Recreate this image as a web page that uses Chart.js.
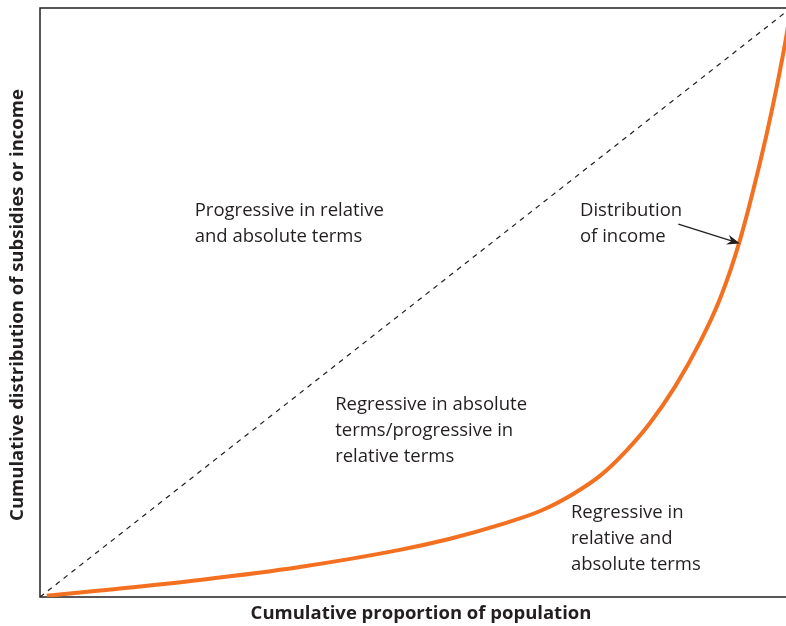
<!DOCTYPE html>
<html>
<head>
<meta charset="utf-8">
<script src="https://cdn.jsdelivr.net/npm/chart.js@4.4.0/dist/chart.umd.min.js"></script>
<style>
  html, body { margin: 0; padding: 0; background: #fff; overflow: hidden; }
  #wrap { position: relative; width: 796px; height: 626px; }
</style>
</head>
<body>
<div id="wrap"><canvas id="lorenz" width="796" height="626"></canvas></div>
<script>
// cumulative proportion of population (x) vs cumulative share of income (y)
const popShare = [0.009, 0.080, 0.213, 0.346, 0.479, 0.546, 0.613, 0.666, 0.710, 0.746, 0.779, 0.812, 0.846, 0.879, 0.906, 0.932, 0.959, 0.976, 0.992, 1.0];
const incomeShare = [0.002, 0.011, 0.029, 0.051, 0.080, 0.099, 0.123, 0.146, 0.175, 0.206, 0.246, 0.295, 0.358, 0.433, 0.508, 0.606, 0.739, 0.835, 0.939, 1.0];
const equalityX = [0, 1];
const equalityY = [0, 1];

const xTitle = 'Cumulative proportion of population';
const yTitle = 'Cumulative distribution of subsidies or income';

// text labels placed in data units (first baseline)
const notes = [
    { lines: ['Progressive in relative', 'and absolute terms'], x: 0.206, y: 0.647 },
    { lines: ['Distribution', 'of income'], x: 0.719, y: 0.647 },
    { lines: ['Regressive in absolute', 'terms/progressive in', 'relative terms'], x: 0.393, y: 0.317 },
    { lines: ['Regressive in', 'relative and', 'absolute terms'], x: 0.707, y: 0.134 }
];
const arrowFrom = [0.850, 0.633];
const arrowTo = [0.932, 0.600];

const FONT = '"Open Sans", "Noto Sans", sans-serif';

const decorPlugin = {
    id: 'decor',
    beforeDatasetsDraw(chart) {
        const { ctx, chartArea: a } = chart;
        ctx.save();
        ctx.strokeStyle = '#231f20';
        ctx.lineWidth = 1.5;
        ctx.beginPath();
        ctx.moveTo(a.right + 2, a.top);
        ctx.lineTo(a.left, a.top);
        ctx.lineTo(a.left, a.bottom);
        ctx.lineTo(a.right + 2, a.bottom);
        ctx.stroke();
        ctx.restore();
    },
    afterDatasetsDraw(chart) {
        const { ctx, scales } = chart;
        const sx = scales.x, sy = scales.y;
        ctx.save();
        ctx.fillStyle = '#231f20';
        ctx.font = '18.5px ' + FONT;
        ctx.textBaseline = 'alphabetic';
        ctx.textAlign = 'left';
        notes.forEach(n => {
            const px = sx.getPixelForValue(n.x);
            const py = sy.getPixelForValue(n.y);
            n.lines.forEach((t, i) => ctx.fillText(t, px, py + i * 25.8));
        });

        // arrow
        const x1 = sx.getPixelForValue(arrowFrom[0]), y1 = sy.getPixelForValue(arrowFrom[1]);
        const x2 = sx.getPixelForValue(arrowTo[0]), y2 = sy.getPixelForValue(arrowTo[1]);
        const ang = Math.atan2(y2 - y1, x2 - x1);
        const c = Math.cos(ang), s = Math.sin(ang);
        ctx.strokeStyle = '#231f20';
        ctx.lineWidth = 1.3;
        ctx.beginPath();
        ctx.moveTo(x1, y1);
        ctx.lineTo(x2 - 8 * c, y2 - 8 * s);
        ctx.stroke();
        ctx.beginPath();
        ctx.moveTo(x2, y2);
        ctx.lineTo(x2 - 13 * c + 5 * s, y2 - 13 * s - 5 * c);
        ctx.lineTo(x2 - 9 * c, y2 - 9 * s);
        ctx.lineTo(x2 - 13 * c - 5 * s, y2 - 13 * s + 5 * c);
        ctx.closePath();
        ctx.fill();

        // axis titles
        ctx.font = 'bold 18.5px ' + FONT;
        ctx.textAlign = 'center';
        ctx.textBaseline = 'middle';
        ctx.fillText(xTitle, 421, 614);
        ctx.translate(18, 305);
        ctx.rotate(-Math.PI / 2);
        ctx.fillText(yTitle, 0, 0);
        ctx.restore();
    }
};

new Chart(document.getElementById('lorenz'), {
    type: 'scatter',
    data: {
        datasets: [
            {
                data: equalityX.map((x, i) => ({ x, y: equalityY[i] })),
                showLine: true,
                borderColor: '#231f20',
                borderWidth: 1.2,
                borderDash: [5, 5],
                pointRadius: 0
            },
            {
                data: popShare.map((x, i) => ({ x, y: incomeShare[i] })),
                showLine: true,
                borderColor: '#f37021',
                borderWidth: 4,
                cubicInterpolationMode: 'monotone',
                pointRadius: 0
            }
        ]
    },
    options: {
        responsive: false,
        animation: false,
        devicePixelRatio: 1,
        layout: { padding: { left: 40, top: 8, right: 5, bottom: 29 } },
        plugins: { legend: { display: false }, tooltip: { enabled: false } },
        scales: {
            x: { type: 'linear', min: 0, max: 1, display: false },
            y: { type: 'linear', min: 0, max: 1, display: false }
        }
    },
    plugins: [decorPlugin]
});
</script>
</body>
</html>
